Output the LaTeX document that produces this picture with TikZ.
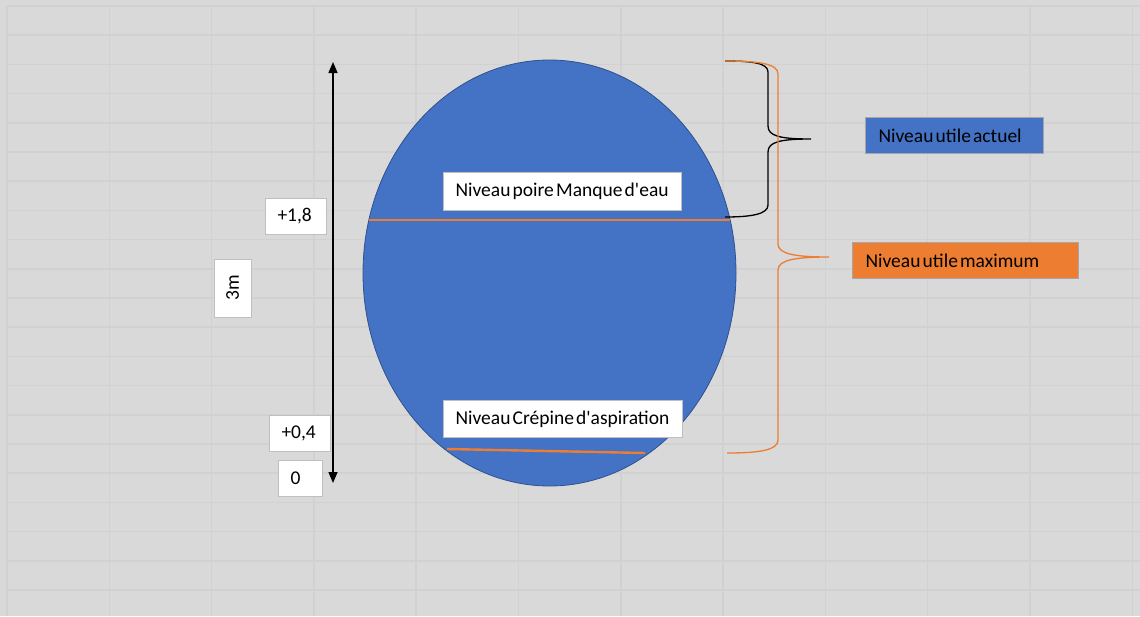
\documentclass[tikz,border=0pt]{standalone}
\usepackage{fontspec}
\setmainfont{Carlito}[Ligatures=TeXOff]
\usetikzlibrary{arrows.meta,shapes.geometric}
\definecolor{bg}{HTML}{D9D9D9}
\definecolor{gridc}{HTML}{D1D1D1}
\definecolor{tank}{HTML}{4472C4}
\definecolor{tankborder}{HTML}{2F528F}
\definecolor{orng}{HTML}{ED7D31}
\definecolor{boxborder}{HTML}{BFBFBF}
\begin{document}
\begin{tikzpicture}[x=1pt,y=-1pt,
  txt/.style={font=\fontsize{19.5}{21}\selectfont, execute at begin node={\spaceskip=2.2pt plus 1pt\relax}},
  lbl/.style={txt, draw=boxborder, line width=1pt, fill=white, inner xsep=12pt, inner ysep=0pt, align=left, anchor=north west},
  tag/.style={txt, draw=boxborder, line width=1pt, fill=white, inner sep=0pt},
  level/.style={orng, line width=2.4pt},
  brace/.style={line width=1.3pt},
  gridline/.style={gridc, line width=1.5pt}
 ]
\useasboundingbox (0,0) rectangle (1140,616);
\fill[bg] (0,0) rectangle (1140,616);
% spreadsheet grid
\foreach \k in {0,...,20} \draw[gridline] (7,6+29.2*\k) -- (1140,6+29.2*\k);
\foreach \k in {0,...,11} \draw[gridline] (7+102.3*\k,6) -- (7+102.3*\k,616);

% tank
\node[ellipse, draw=tankborder, line width=0.8pt, fill=tank, minimum width=373pt, minimum height=426pt, inner sep=0pt] (tank) at (549.5,273) {};

% level lines
\coordinate (l1a) at (369,220);
\coordinate (l1b) at (730,220);
\coordinate (l2a) at (447,449);
\coordinate (l2b) at (645,453);
\draw[level] (l1a) -- (l1b);
\draw[level] (l2a) -- (l2b);

% labels in tank
\node[lbl, text width=214pt, minimum height=38pt] (poire) at (443,172) {Niveau poire Manque d'eau};
\node[lbl, text width=215pt, minimum height=37pt] (crepine) at (443,400) {Niveau Crépine d'aspiration};

% height arrow
\coordinate (atop) at (333,62);
\coordinate (abot) at (333,483);
\draw[line width=1.5pt, {Triangle[length=11pt,width=9pt]}-{Triangle[length=11pt,width=9pt]}] (atop) -- (abot);

% scale labels
\node[lbl, text width=37pt, minimum height=36pt] (h18) at (265,198) {+1,8};
\node[lbl, text width=37pt, minimum height=36pt] (h04) at (269,415) {+0,4};
\node[lbl, text width=20pt, minimum height=36pt] (h0) at (278,460) {0};
\node[tag, rotate=90, minimum width=58pt, minimum height=37pt] (h3m) at (232.5,288) {3m};

% braces
\coordinate (b1top) at (725,61);
\coordinate (b1tip) at (811,139);
\coordinate (b1bot) at (725,217);
\draw[brace, black] (b1top) .. controls (752,61) and (768,63) .. (768,72)
  -- (768,126) .. controls (768,136) and (780,139) .. (b1tip)
  .. controls (780,139) and (768,142) .. (768,152)
  -- (768,205) .. controls (768,214) and (752,217) .. (b1bot);

\coordinate (b2top) at (725,61);
\coordinate (b2tip) at (829,257);
\coordinate (b2bot) at (727,453);
\draw[brace, orng] (b2top) .. controls (760,61) and (778,64) .. (778,74)
  -- (778,244) .. controls (778,254) and (795,257) .. (b2tip)
  .. controls (795,257) and (778,260) .. (778,270)
  -- (778,440) .. controls (778,450) and (760,453) .. (b2bot);

% legend boxes
\node[lbl, fill=tank, draw=black!35, text width=152pt, minimum height=36pt, inner xsep=13pt] (actuel) at (865,117) {Niveau utile actuel};
\node[lbl, fill=orng, draw=black!35, text width=200pt, minimum height=36pt, inner xsep=13pt] (maximum) at (852,242) {Niveau utile maximum};
\end{tikzpicture}
\end{document}
